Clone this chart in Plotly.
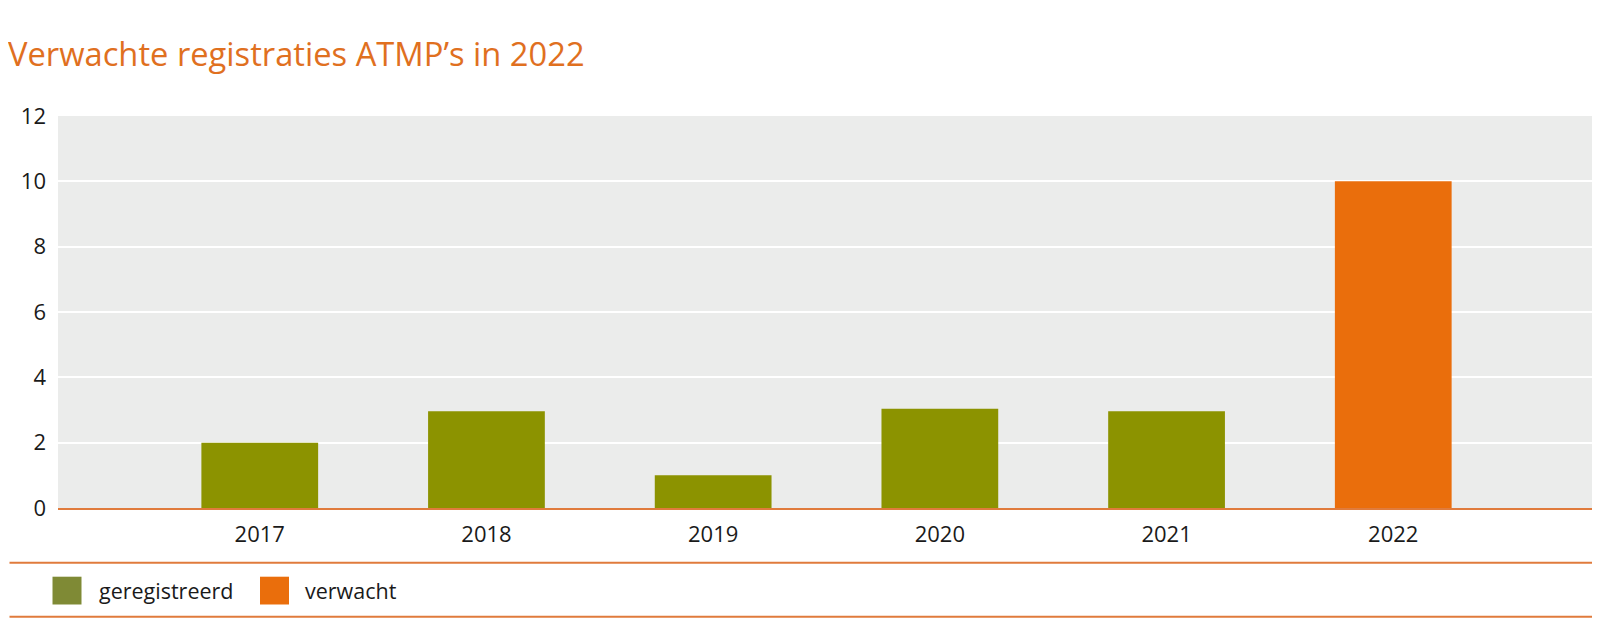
import plotly.graph_objects as go

years = ["2017", "2018", "2019", "2020", "2021", "2022"]
registered_years = ["2017", "2018", "2019", "2020", "2021"]
registered_values = [2, 2.96, 1, 3.04, 2.96]
expected_years = ["2022"]
expected_values = [10]
y_ticks = [0, 2, 4, 6, 8, 10, 12]

GREEN = "#8c9300"
ORANGE = "#ea6e0c"
LINE = "#e07b3c"
FONT = "Open Sans"

pos = {y: i for i, y in enumerate(years)}

fig = go.Figure()
fig.add_trace(go.Bar(
    x=[pos[y] for y in registered_years], y=registered_values,
    name="geregistreerd", marker=dict(color=GREEN, line=dict(width=0)),
    width=0.515, showlegend=False,
))
fig.add_trace(go.Bar(
    x=[pos[y] for y in expected_years], y=expected_values,
    name="verwacht", marker=dict(color=ORANGE, line=dict(width=0)),
    width=0.515, showlegend=False,
))

PW = 1542.0  # plot width in px
PH = 392.0   # plot height in px

fig.update_layout(
    width=1592, height=623,
    margin=dict(l=50, r=0, t=108, b=123),
    paper_bgcolor="white", plot_bgcolor="#ebeceb",
    font=dict(family=FONT, size=22, color="#1a1a1a"),
    title=dict(text="Verwachte registraties ATMP’s in 2022",
               x=0.0, xanchor="left", y=1 - 47 / 623, yanchor="middle",
               font=dict(family=FONT, size=32.7, color="#e0701f")),
)
fig.update_xaxes(
    range=[-0.89, 5.912], tickmode="array",
    tickvals=list(range(len(years))), ticktext=years,
    showgrid=False, zeroline=False, showline=True, linecolor=LINE, linewidth=2,
    ticks="", ticklabelstandoff=6, fixedrange=True,
)
fig.update_yaxes(
    range=[0, 12], tickmode="array", tickvals=y_ticks,
    showgrid=True, gridcolor="white", gridwidth=2,
    zeroline=False, showline=False, ticks="", ticklabelstandoff=11,
)

# legend separator lines
for yy in [562.7, 616.7]:
    fig.add_shape(type="line", xref="paper", yref="paper",
                  x0=(9.5 - 58) / PW, x1=1.0,
                  y0=(508 - yy) / PH, y1=(508 - yy) / PH,
                  line=dict(color=LINE, width=2))

# custom legend
legend_items = [("geregistreerd", "#7f8a35", 52.5, 96.5), ("verwacht", ORANGE, 260, 303)]
for label, col, sx, tx in legend_items:
    fig.add_shape(type="rect", xref="paper", yref="paper",
                  x0=(sx - 58) / PW, x1=(sx + 29 - 58) / PW,
                  y0=(508 - 576.7) / PH, y1=(508 - 604.5) / PH,
                  fillcolor=col, line=dict(width=0))
    fig.add_annotation(text=label, xref="paper", yref="paper",
                       x=(tx - 58) / PW, y=(508 - 590) / PH,
                       xanchor="left", yanchor="middle", showarrow=False,
                       font=dict(family=FONT, size=21.5, color="#1a1a1a"))

fig.write_html("out.html")
